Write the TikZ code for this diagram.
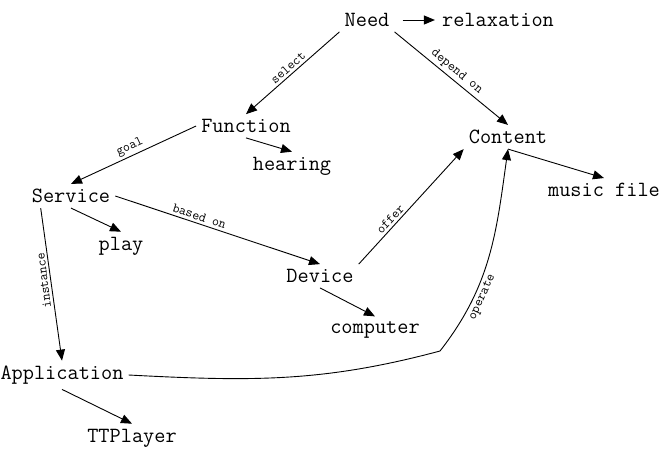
\documentclass[tikz,border=0pt]{standalone}
\usepackage{tikz}
\usetikzlibrary{arrows.meta,positioning,calc}
\tikzset{
  concept/.style={font=\ttfamily\fontsize{21.7}{22}\selectfont,inner sep=5pt},
  link/.style={-{Triangle[length=11pt,width=9pt]},line width=0.9pt},
  lbl/.style={font=\ttfamily\fontsize{13.5}{14}\selectfont,inner sep=2.5pt},
}
\begin{document}
\begin{tikzpicture}[x=1pt,y=-1pt]
  \useasboundingbox (0,0) rectangle (665,456);
  % concepts
  \node[concept] (need) at (367,20) {Need};
  \node[concept] (rel)  at (498,20) {relaxation};
  \node[concept] (fun)  at (246,126) {Function};
  \node[concept] (hear) at (292,166) {hearing};
  \node[concept] (con)  at (508,137) {Content};
  \node[concept] (mus)  at (604,190) {music file};
  \node[concept] (serv) at (71,196) {Service};
  \node[concept] (play) at (121,246) {play};
  \node[concept] (dev)  at (320,276) {Device};
  \node[concept] (comp) at (375,330) {computer};
  \node[concept] (app)  at (62,375) {Application};
  \node[concept] (tt)   at (132,438) {TTPlayer};
  \coordinate (bend) at (440,351);
  % relations
  \draw[link] ([xshift=8pt]need.east) -- ([xshift=-2pt]rel.west);
  \draw[link] (need.south west) -- node[lbl,sloped,above]{select} (fun.north);
  \draw[link] (need.south east) -- node[lbl,sloped,above]{depend on} (con.north);
  \draw[link] (fun.west) -- node[lbl,sloped,above]{goal} (serv.north);
  \draw[link] (fun.south) -- (hear.north);
  \draw[link] (con.south) -- (mus.north);
  \draw[link] (serv.south) -- (play.north);
  \draw[link] (serv.east) -- node[lbl,sloped,above,pos=0.4]{based on} (dev.north);
  \draw[link] ([xshift=14pt]serv.south west) --
      node[lbl,rotate=97,above,pos=0.47]{instance} (app.north);
  \draw[link] (dev.north east) -- node[lbl,sloped,above,pos=0.35]{offer} (con.south west);
  \draw[link] (dev.south) -- (comp.north);
  \draw[link] (app.south) -- (tt.north);
  \draw[link] (app.east) to[out=-3,in=195] (bend)
      to[out=52,in=-98] node[lbl,sloped,below,pos=0.3]{operate} (con.south);
\end{tikzpicture}
\end{document}
